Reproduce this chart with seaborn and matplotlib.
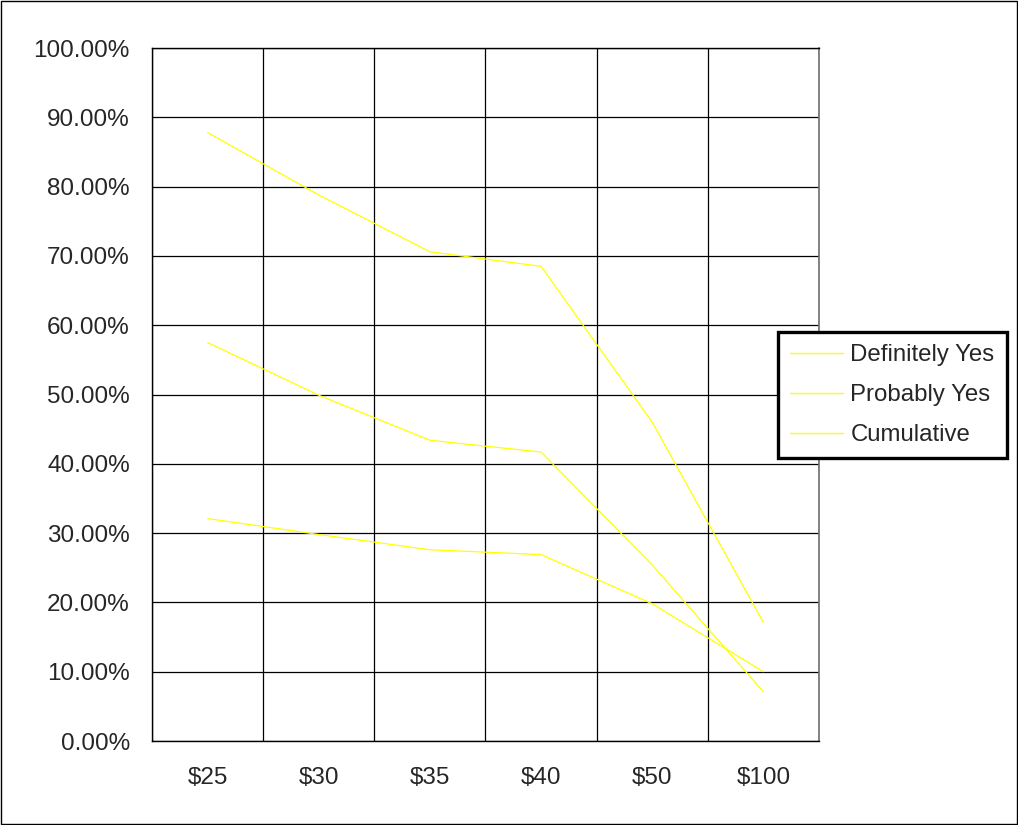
import pandas as pd
import matplotlib
matplotlib.use("Agg")
import matplotlib.pyplot as plt
import matplotlib.ticker as mticker
import seaborn as sns

sns.set_style("white")
plt.rcParams['font.family'] = ['Liberation Sans', 'DejaVu Sans']

# Data (in percent)
prices = ['$25', '$30', '$35', '$40', '$50', '$100']
definitely_yes = [32.1, 29.8, 27.6, 26.9, 19.8, 10.0]
probably_yes = [57.5, 49.9, 43.4, 41.7, 25.4, 7.1]
cumulative = [87.8, 78.8, 70.6, 68.5, 46.0, 17.1]
series_names = ['Definitely Yes', 'Probably Yes', 'Cumulative']

df = pd.DataFrame({
    'price': prices * 3,
    'value': definitely_yes + probably_yes + cumulative,
    'series': [s for s in series_names for _ in prices],
})

fig = plt.figure(figsize=(10.18, 8.25), dpi=100)
ax = fig.add_axes([0.1493, 0.1018, 0.6552, 0.8400])

sns.lineplot(data=df, x='price', y='value', hue='series', hue_order=series_names,
             palette=['#FFFF00'] * 3, linewidth=0.9, sort=False, ax=ax, legend=True)

ax.set_xlim(-0.5, len(prices) - 0.5)
ax.set_ylim(0, 100)
ax.yaxis.set_major_locator(mticker.MultipleLocator(10))
ax.yaxis.set_major_formatter(mticker.FuncFormatter(lambda v, p: f'{v:.2f}%'))
ax.set_xticks(range(len(prices)))
ax.set_xticklabels(prices)
ax.set_xticks([i - 0.5 for i in range(len(prices) + 1)], minor=True)

ax.grid(True, axis='y', which='major', color='black', linewidth=0.9)
ax.grid(True, axis='x', which='minor', color='black', linewidth=0.9)
ax.set_axisbelow(True)

ax.tick_params(axis='x', which='major', length=0, pad=19, labelsize=17.5)
ax.tick_params(axis='x', which='minor', length=6, width=0.9, color='black', direction='out')
ax.tick_params(axis='y', which='major', length=6, width=0.9, color='black',
               direction='out', labelsize=17.5, pad=10)
ax.set_xlabel('')
ax.set_ylabel('')

for side in ['left', 'bottom', 'top']:
    ax.spines[side].set_color('black')
    ax.spines[side].set_linewidth(1.0)
ax.spines['right'].set_color('#707070')
ax.spines['right'].set_linewidth(1.2)

leg = ax.legend(loc='center left', bbox_to_anchor=(0.764, 0.521),
                bbox_transform=fig.transFigure, frameon=True, fancybox=False,
                fontsize=17.3, handlelength=2.2, handletextpad=0.3,
                borderpad=0.52, labelspacing=0.74, borderaxespad=0)
leg.get_frame().set_edgecolor('black')
leg.get_frame().set_linewidth(2.4)
leg.get_frame().set_alpha(1)
for line in leg.get_lines():
    line.set_linewidth(1.0)

# outer chart border
fig.patches.append(plt.Rectangle((0.001, 0.001), 0.998, 0.998, transform=fig.transFigure,
                                 fill=False, edgecolor='black', linewidth=1.0))

fig.savefig('out.png', dpi=100)
plt.close(fig)
